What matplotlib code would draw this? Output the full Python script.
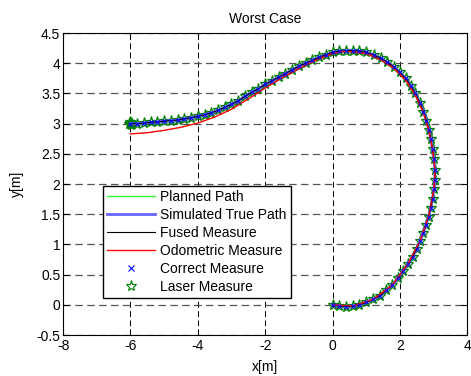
import matplotlib
matplotlib.use("Agg")
import matplotlib.pyplot as plt
from matplotlib.lines import Line2D
from matplotlib.ticker import FormatStrFormatter, MultipleLocator

plt.rcParams['font.family'] = ['Liberation Sans', 'DejaVu Sans']

# Planned path (start at origin, end at (-6, 3))
path_x = [0.00, 0.20, 0.40, 0.60, 0.80, 1.00, 1.20, 1.40, 1.60, 1.78,
          1.94, 2.09, 2.24, 2.38, 2.50, 2.60, 2.69, 2.77, 2.85, 2.92,
          2.97, 3.01, 3.04, 3.04, 3.01, 2.97, 2.92, 2.86, 2.79, 2.70,
          2.59, 2.46, 2.32, 2.17, 2.00, 1.82, 1.63, 1.43, 1.22, 1.00,
          0.80, 0.60, 0.40, 0.20, 0.00, -0.20, -0.40, -0.60, -0.80, -1.00,
          -1.20, -1.40, -1.60, -1.80, -2.00, -2.20, -2.40, -2.60, -2.80, -3.00,
          -3.20, -3.40, -3.60, -3.80, -4.00, -4.20, -4.40, -4.60, -4.80, -5.00,
          -5.20, -5.40, -5.60, -5.80, -6.00]
path_y = [0.00, -0.02, -0.03, -0.02, 0.00, 0.04, 0.09, 0.15, 0.24, 0.33,
          0.44, 0.56, 0.68, 0.80, 0.93, 1.06, 1.19, 1.32, 1.46, 1.61,
          1.76, 1.91, 2.07, 2.24, 2.42, 2.58, 2.74, 2.90, 3.05, 3.20,
          3.35, 3.50, 3.63, 3.75, 3.85, 3.94, 4.02, 4.08, 4.14, 4.18,
          4.20, 4.21, 4.21, 4.20, 4.18, 4.14, 4.10, 4.05, 4.00, 3.95,
          3.89, 3.83, 3.77, 3.71, 3.65, 3.58, 3.52, 3.45, 3.38, 3.32,
          3.27, 3.22, 3.18, 3.15, 3.12, 3.10, 3.08, 3.06, 3.05, 3.04,
          3.03, 3.02, 3.01, 3.00, 3.00]

# Laser measures: along the path plus a pile-up at the final pose
laser_x = path_x + [-5.97, -6.03, -6.00, -5.98, -6.02, -5.95]
laser_y = path_y + [3.01, 2.99, 3.02, 2.98, 3.01, 3.00]

# Odometric estimate drifts below the path on the way back
odo_x = [0.00, 0.60, 1.20, 1.78, 2.24, 2.60, 2.85, 3.01, 3.04, 2.97,
         2.86, 2.70, 2.46, 2.17, 1.82, 1.43, 1.00, 0.40, 0.00, -0.50,
         -1.00, -1.50, -2.00, -2.50, -3.00, -3.50, -4.00, -4.50, -5.00, -5.50,
         -6.00]
odo_y = [0.00, -0.02, 0.09, 0.33, 0.68, 1.06, 1.46, 1.91, 2.24, 2.58,
         2.88, 3.18, 3.47, 3.72, 3.92, 4.06, 4.16, 4.20, 4.16, 4.05,
         3.91, 3.76, 3.59, 3.41, 3.24, 3.11, 3.01, 2.94, 2.89, 2.85,
         2.83]

fig = plt.figure(figsize=(4.71, 3.76), dpi=100)
ax = fig.add_axes([0.134, 0.109, 0.858, 0.803])

ax.plot(laser_x, laser_y, linestyle='none', marker='*', markersize=8,
        markerfacecolor='none', markeredgecolor='#008000', markeredgewidth=0.9, zorder=3)
ax.plot(path_x, path_y, color='#33ff33', lw=1.0, zorder=4)
ax.plot(path_x, path_y, color='#6666ff', lw=2.0, zorder=4)
ax.plot(path_x, path_y, color='black', lw=0.8, zorder=5)
ax.plot(odo_x, odo_y, color='red', lw=1.0, zorder=5)
ax.plot(path_x, path_y, linestyle='none', marker='x', markersize=3.5,
        color='blue', markeredgewidth=0.8, zorder=6)

ax.set_xlim(-8, 4)
ax.set_ylim(-0.5, 4.5)
ax.xaxis.set_major_locator(MultipleLocator(2))
ax.yaxis.set_major_locator(MultipleLocator(0.5))
ax.xaxis.set_major_formatter(FormatStrFormatter('%g'))
ax.yaxis.set_major_formatter(FormatStrFormatter('%g'))
ax.tick_params(direction='in', top=True, right=True, length=4, labelsize=10, pad=2)
ax.tick_params(axis='x', pad=3)
for sp in ax.spines.values():
    sp.set_linewidth(0.8)

dash = (0, (6, 3.5))
ax.grid(True, axis='y', color='#555555', linestyle=dash, lw=0.9, zorder=1)
ax.grid(True, axis='x', color='black', linestyle=dash, lw=0.7, zorder=1)
ax.set_axisbelow(True)

ax.set_title('Worst Case', fontsize=10, pad=7)
ax.set_xlabel('x[m]', fontsize=10, labelpad=5)
ax.set_ylabel('y[m]', fontsize=10, labelpad=9)

handles = [
    Line2D([], [], color='#33ff33', lw=1.0),
    Line2D([], [], color='#6666ff', lw=2.0),
    Line2D([], [], color='black', lw=0.8),
    Line2D([], [], color='red', lw=1.0),
    Line2D([], [], linestyle='none', marker='x', color='blue', markersize=4, markeredgewidth=0.8),
    Line2D([], [], linestyle='none', marker='*', markersize=8, markerfacecolor='none',
           markeredgecolor='#008000', markeredgewidth=0.8),
]
labels = ['Planned Path', 'Simulated True Path', 'Fused Measure',
          'Odometric Measure', 'Correct Measure', 'Laser Measure']
leg = ax.legend(handles, labels, loc='upper left', bbox_to_anchor=(0.099, 0.493),
                borderaxespad=0, fontsize=10, frameon=True, fancybox=False,
                framealpha=1, edgecolor='black', handlelength=3.4,
                handletextpad=0.4, labelspacing=0.28, borderpad=0.3, numpoints=1)
leg.get_frame().set_linewidth(1.0)
leg.set_zorder(10)

fig.savefig('out.png', dpi=100)
